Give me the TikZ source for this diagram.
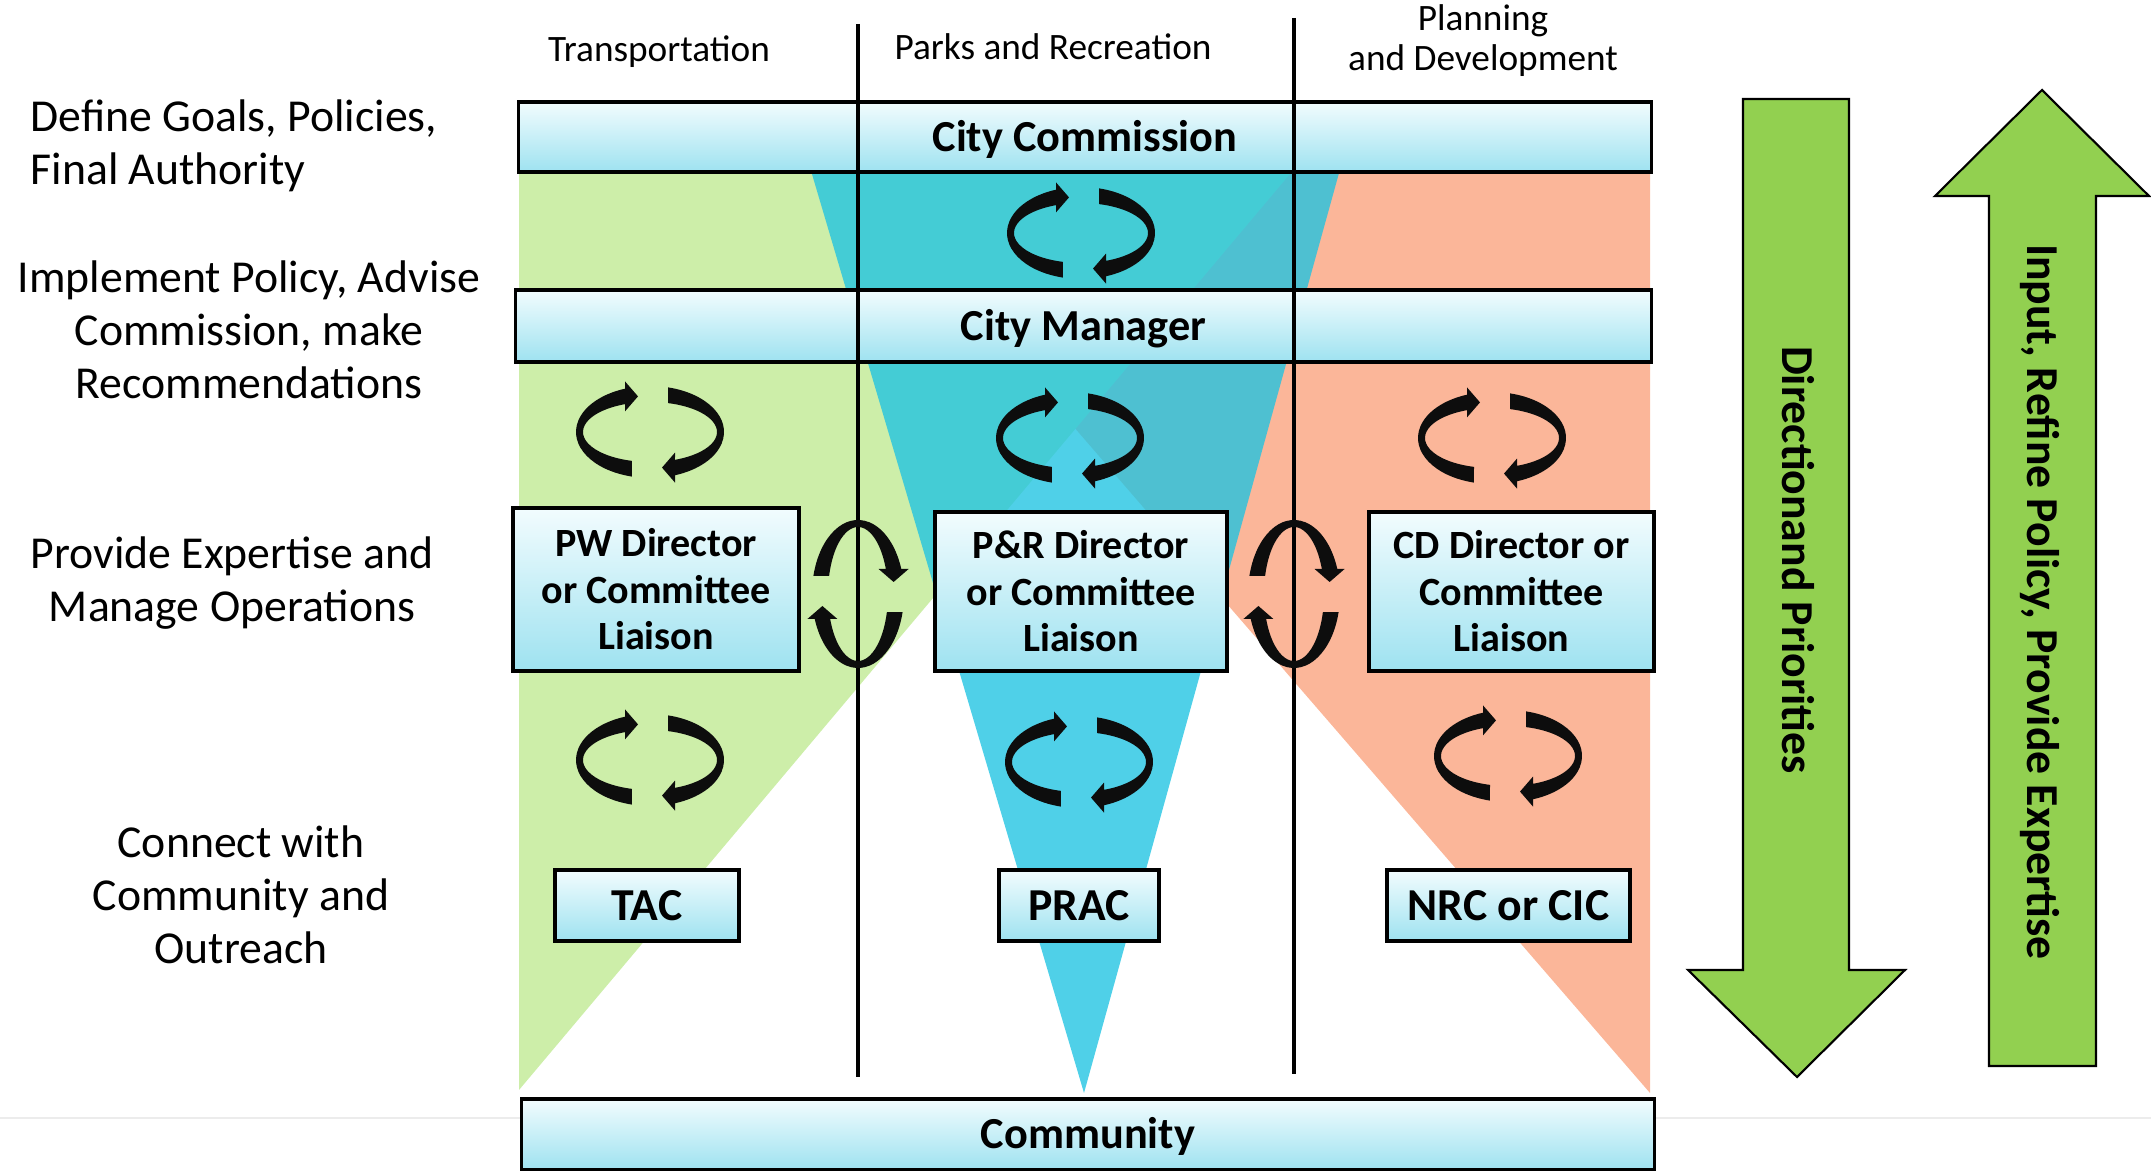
\documentclass[tikz,border=0pt]{standalone}
\usepackage{fontspec}
\setmainfont{Carlito}

\definecolor{tgreen}{HTML}{CDEEA9}
\definecolor{torange}{HTML}{FBB699}
\definecolor{tblue}{HTML}{1EC3E2}
\definecolor{bartop}{HTML}{F2FCFE}
\definecolor{barmid}{HTML}{B8EBF5}
\definecolor{barbot}{HTML}{9EE2F0}
\definecolor{flowgreen}{HTML}{92D050}

\begin{document}
\begin{tikzpicture}[x=0.01cm, y=-0.01cm]
   \tikzstyle{every node}=[inner sep=0pt]
   \tikzstyle{panel}=[draw, line width=1pt, top color=bartop, middle color=barmid, bottom color=barbot]
   \tikzstyle{bar}=[panel, text height=8pt, text depth=0pt, font=\fontsize{12.6}{15}\selectfont\bfseries]
   \tikzstyle{office}=[panel, align=center, font=\fontsize{11.4}{13.2}\selectfont\bfseries]
   \tikzstyle{board}=[panel, text height=8.4pt, text depth=0pt, font=\fontsize{13}{15}\selectfont\bfseries]
   \tikzstyle{role}=[align=center, font=\fontsize{13}{15.1}\selectfont]
   \tikzstyle{dept}=[align=center, font=\fontsize{10.6}{11.4}\selectfont]
   \tikzstyle{flow}=[draw, line width=0.6pt, fill=flowgreen]
   \tikzstyle{flowtext}=[rotate=-90, text height=8.4pt, text depth=0pt, font=\fontsize{13}{15}\selectfont\bfseries]
   \tikzstyle{divider}=[line width=1.2pt]
   \tikzset{swirl/.pic={
      \foreach \r in {0,180}
         \fill[black!95, rotate=\r] (104.1:74 and 46)
            arc[start angle=104.1, end angle=250.25, x radius=74, y radius=46]
            -- (-25,-50.6) -- (-12,-35.6) -- (-25,-20.6) -- (248.1:67 and 30)
            arc[start angle=248.1, end angle=105.6, x radius=67, y radius=30] -- cycle;
   }}

\useasboundingbox (0,0) rectangle (2151,1171);
\draw[gray!15, line width=0.6pt] (0,1118) -- (2151,1118);

\fill[torange] (1650,137) -- (1650,1093) -- (823,137) -- cycle;
\fill[tgreen] (519,137) -- (1321,137) -- (519,1090) -- cycle;
\fill[tblue, fill opacity=0.78] (801,137) -- (1349,137) -- (1084,1093) -- cycle;

\node[bar, minimum width=11.32cm, minimum height=0.70cm] (commission) at (1085,137) {City Commission};
\node[bar, minimum width=11.35cm, minimum height=0.72cm] (manager) at (1083.5,326) {City Manager};
\node[bar, minimum width=11.32cm, minimum height=0.71cm] (community) at (1088,1134.5) {Community};

\node[office, minimum width=2.86cm, minimum height=1.63cm] (pw) at (656,589.5) {PW Director\\or Committee\\Liaison};
\node[office, minimum width=2.92cm, minimum height=1.59cm] (pr) at (1081,591.5) {P\&R Director\\or Committee\\Liaison};
\node[office, minimum width=2.85cm, minimum height=1.59cm] (cd) at (1511.5,591.5) {CD Director or\\Committee\\Liaison};

\node[board, minimum width=1.84cm, minimum height=0.71cm] (tac) at (647,905.5) {TAC};
\node[board, minimum width=1.60cm, minimum height=0.71cm] (prac) at (1079,905.5) {PRAC};
\node[board, minimum width=2.43cm, minimum height=0.71cm] (nrc) at (1508.5,905.5) {NRC or CIC};

\coordinate (col1top) at (858,24);
\coordinate (col1end) at (858,1077);
\coordinate (col2top) at (1294,18);
\coordinate (col2end) at (1294,1074);
\draw[divider] (col1top) -- (col1end);
\draw[divider] (col2top) -- (col2end);

\pic (cycc) at (1081,233) {swirl};
\pic (cyc1) at (650,432) {swirl};
\pic (cyc2) at (1070,438) {swirl};
\pic (cyc3) at (1492,438) {swirl};
\pic (cyc4) at (650,760) {swirl};
\pic (cyc5) at (1079,762) {swirl};
\pic (cyc6) at (1508,756) {swirl};
\pic[rotate=90] (cyv1) at (858,594) {swirl};
\pic[rotate=90] (cyv2) at (1294,594) {swirl};

\node[dept, anchor=base] (transport) at (659,62) {Transportation};
\node[dept, anchor=base] (parks) at (1053,60) {Parks and Recreation};
\node[dept] (planning) at (1483,41) {Planning\\and Development};

\node[role, align=left, anchor=west] (goals) at (30,146) {Define Goals, Policies,\\Final Authority};
\node[role] (implement) at (249,330) {Implement Policy, Advise\\Commission, make\\Recommendations};
\node[role] (expertise) at (232,583) {Provide Expertise and\\Manage Operations};
\node[role] (outreach) at (241,895) {Connect with\\Community and\\Outreach};

\draw[flow] (1743,99) -- (1849,99) -- (1849,970) -- (1905,970) -- (1797,1077) -- (1688,970) -- (1743,970) -- cycle;
\draw[flow] (1989,1066) -- (2096,1066) -- (2096,196) -- (2149,196) -- (2042,90) -- (1935,196) -- (1989,196) -- cycle;
\node[flowtext] (direction) at (1797,560) {Directionand Priorities};
\node[flowtext] (input) at (2042,602) {Input, Refine Policy, Provide Expertise};

\end{tikzpicture}
\end{document}
